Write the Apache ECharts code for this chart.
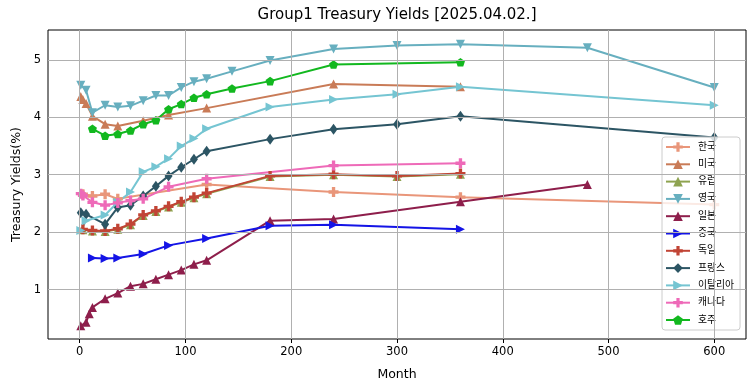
<!DOCTYPE html>
<html><head><meta charset="utf-8">
<script src="https://cdn.jsdelivr.net/npm/echarts@6/dist/echarts.min.js"></script>
<style>html,body{margin:0;padding:0;background:#fff}#c{width:755px;height:391px}</style>
</head><body><div id="c"></div>
<script>
const seriesNames = ['한국','미국','유럽','영국','일본','중국','독일','프랑스','이탈리아','캐나다','호주'];
const krMonths = [3,12,24,36,120,240,360,600];
const krValues = [2.66,2.63,2.66,2.58,2.83,2.70,2.61,2.48];
const usMonths = [1,3,6,12,24,36,60,84,120,240,360];
const usValues = [4.36,4.31,4.24,4.02,3.88,3.85,3.94,4.04,4.16,4.58,4.53];
const euMonths = [3,12,24,36,48,60,72,84,96,108,120,180,240,300,360];
const euValues = [2.04,2.02,2.01,2.05,2.13,2.29,2.36,2.44,2.52,2.60,2.67,2.97,3.00,2.97,3.01];
const ukMonths = [1,6,12,24,36,48,60,72,84,96,108,120,144,180,240,300,360,480,600];
const ukValues = [4.56,4.47,4.08,4.21,4.18,4.20,4.29,4.38,4.38,4.52,4.62,4.67,4.80,4.99,5.19,5.25,5.27,5.21,4.52];
const jpMonths = [1,6,9,12,24,36,48,60,72,84,96,108,120,180,240,360,480];
const jpValues = [0.37,0.43,0.58,0.69,0.84,0.94,1.06,1.10,1.18,1.26,1.34,1.44,1.51,2.20,2.23,2.53,2.83];
const cnMonths = [12,24,36,60,84,120,180,240,360];
const cnValues = [1.55,1.54,1.55,1.62,1.77,1.89,2.11,2.13,2.05];
const deMonths = [3,12,24,36,48,60,72,84,96,108,120,180,240,300,360];
const deValues = [2.05,2.03,2.02,2.06,2.14,2.30,2.37,2.45,2.53,2.61,2.68,2.98,3.01,2.98,3.02];
const frMonths = [1,6,24,36,48,60,72,84,96,108,120,180,240,300,360,600];
const frValues = [2.34,2.31,2.14,2.43,2.47,2.63,2.80,2.98,3.13,3.27,3.41,3.62,3.79,3.88,4.02,3.65];
const itMonths = [1,6,24,36,48,60,72,84,96,108,120,180,240,300,360,600];
const itValues = [2.03,2.20,2.30,2.52,2.70,3.05,3.14,3.28,3.50,3.63,3.80,4.18,4.31,4.40,4.53,4.21];
const caMonths = [1,3,12,24,36,48,60,84,120,240,360];
const caValues = [2.67,2.64,2.52,2.47,2.51,2.55,2.58,2.79,2.93,3.16,3.20];
const auMonths = [12,24,36,48,60,72,84,96,108,120,144,180,240,360];
const auValues = [3.80,3.68,3.71,3.77,3.88,3.95,4.14,4.23,4.34,4.40,4.50,4.63,4.92,4.96];
const xTicks = [0,100,200,300,400,500,600];
const yTicks = [1,2,3,4,5];

const PLUS = 'path://M3,0H6V3H9V6H6V9H3V6H0V3H3Z';
const PENT = 'path://M50,0L97.55,34.55L79.39,90.45L20.61,90.45L2.45,34.55Z';
const specs = [
  [krMonths, krValues, '#E9967A', PLUS, 10, 0],
  [usMonths, usValues, '#C97B57', 'triangle', 9, 0],
  [euMonths, euValues, '#8EA350', 'triangle', 9, 0],
  [ukMonths, ukValues, '#67AFBF', 'triangle', 9, 180],
  [jpMonths, jpValues, '#8E1E4B', 'triangle', 9, 0],
  [cnMonths, cnValues, '#1414E6', 'triangle', 9, -90],
  [deMonths, deValues, '#C14435', PLUS, 10, 0],
  [frMonths, frValues, '#2C5564', 'diamond', [8,11], 0],
  [itMonths, itValues, '#75C5D2', 'triangle', 9, -90],
  [caMonths, caValues, '#EE6AB8', PLUS, 10, 0],
  [auMonths, auValues, '#12B81F', PENT, 9, 0]
];
const series = specs.map((s, i) => ({
  name: seriesNames[i], type: 'line',
  data: s[0].map((m, j) => [m, s[1][j]]),
  symbol: s[3], symbolSize: s[4], symbolRotate: s[5], symbolKeepAspect: true,
  showAllSymbol: true,
  lineStyle: {color: s[2], width: 2},
  itemStyle: {color: s[2]},
  emphasis: {disabled: true},
  z: 3
}));
series.push({
  type: 'line', data: [], silent: true, z: 1,
  markLine: {
    silent: true, symbol: 'none', animation: false,
    label: {show: false},
    lineStyle: {color: '#b0b0b0', width: 1, type: 'solid'},
    data: xTicks.map(v => ({xAxis: v})).concat(yTicks.map(v => ({yAxis: v})))
  }
});

const chart = echarts.init(document.getElementById('c'), null, {renderer: 'canvas'});
chart.setOption({
  animation: false,
  backgroundColor: '#fff',
  title: {
    text: 'Group1 Treasury Yields [2025.04.02.]',
    left: 397, top: 8, padding: 0, textAlign: 'center',
    textStyle: {fontFamily: 'DejaVu Sans', fontSize: 15, fontWeight: 'normal', color: '#000'}
  },
  grid: {left: 48, right: 9, top: 30, bottom: 52, containLabel: false, show: true, borderColor: '#000', borderWidth: 1, backgroundColor: 'transparent'},
  legend: {
    orient: 'vertical', left: 662, top: 137,
    padding: [4, 6, 4, 3], itemWidth: 24, itemHeight: 12, itemGap: 5.3,
    backgroundColor: 'rgba(255,255,255,0.8)', borderColor: '#cccccc', borderWidth: 1, borderRadius: 3,
    textStyle: {fontFamily: 'DejaVu Sans, Noto Sans CJK KR', fontSize: 9.8, color: '#000', lineHeight: 12, padding: [0,0,0,3]},
    data: seriesNames
  },
  xAxis: {
    type: 'value', min: -30, max: 630,
    name: 'Month', nameLocation: 'middle', nameGap: 29,
    nameTextStyle: {fontFamily: 'DejaVu Sans', fontSize: 12.5, color: '#000'},
    axisLine: {show: false},
    axisTick: {show: true, length: 4, lineStyle: {color: '#000'}, customValues: xTicks},
    axisLabel: {fontFamily: 'DejaVu Sans', fontSize: 11.5, color: '#000', margin: 7, customValues: xTicks},
    splitLine: {show: false}
  },
  yAxis: {
    type: 'value', min: 0.14, max: 5.52,
    name: 'Treasury Yields(%)', nameLocation: 'middle', nameGap: 24,
    nameTextStyle: {fontFamily: 'DejaVu Sans', fontSize: 12.5, color: '#000'},
    axisLine: {show: false},
    axisTick: {show: true, length: 4, lineStyle: {color: '#000'}, customValues: yTicks},
    axisLabel: {fontFamily: 'DejaVu Sans', fontSize: 11.5, color: '#000', margin: 7, customValues: yTicks},
    splitLine: {show: false}
  },
  series: series
});
</script></body></html>
